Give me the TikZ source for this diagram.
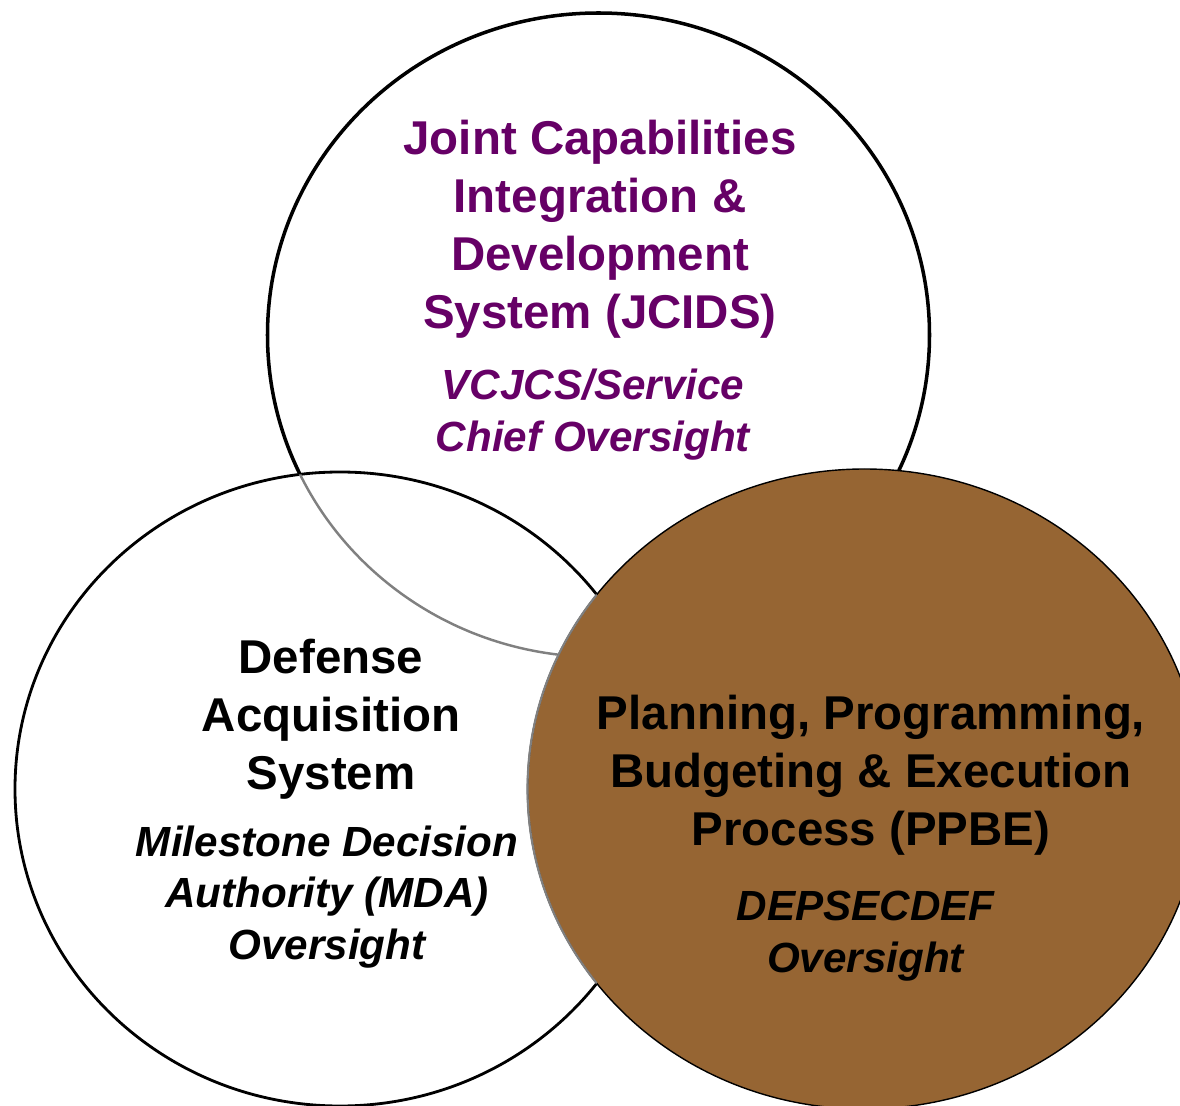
\documentclass[tikz,border=0pt]{standalone}
\usepackage{fontspec}
\setmainfont{Liberation Sans}
\definecolor{violet}{HTML}{660066}
\definecolor{brun}{HTML}{966533}
\tikzset{
  titre/.style={align=center, font=\fontsize{27}{33}\selectfont\bfseries},
  soustitre/.style={align=center, font=\fontsize{24}{29.5}\selectfont\bfseries\itshape}
}
\begin{document}
\begin{tikzpicture}

% Cadre
\useasboundingbox (0,0) rectangle (23.6,-22.12);
\clip (0,0) rectangle (23.6,-22.12);

% Cercle du haut
\draw[line width=2pt] (11.97,-6.70) ellipse [x radius=6.62cm, y radius=6.44cm];

% Cercle de gauche
\filldraw[fill=white, line width=1.6pt] (6.8,-15.78) ellipse [x radius=6.5cm, y radius=6.34cm];
\begin{scope}
  \clip (6.8,-15.78) ellipse [x radius=6.5cm, y radius=6.34cm];
  \draw[gray, line width=1.4pt] (11.97,-6.70) ellipse [x radius=6.62cm, y radius=6.44cm];
\end{scope}

% Cercle de droite
\filldraw[fill=brun, line width=0.8pt] (17.29,-15.78) ellipse [x radius=6.74cm, y radius=6.4cm];
\begin{scope}
  \clip (6.8,-15.78) ellipse [x radius=6.5cm, y radius=6.34cm];
  \draw[gray, line width=1.2pt] (17.29,-15.78) ellipse [x radius=6.74cm, y radius=6.4cm];
\end{scope}

% Textes
\node[titre, text=violet] (jcids) at (12.0,-4.58)
  {Joint Capabilities\\Integration \&\\Development\\System (JCIDS)};
\node[soustitre, text=violet] (vcjcs) at (11.86,-8.30)
  {VCJCS/Service\\Chief Oversight};
\node[titre] (das) at (6.62,-14.38)
  {Defense\\Acquisition\\System};
\node[soustitre] (mda) at (6.54,-17.94)
  {Milestone Decision\\Authority (MDA)\\Oversight};
\node[titre] (ppbe) at (17.42,-15.5)
  {Planning, Programming,\\Budgeting \& Execution\\Process (PPBE)};
\node[soustitre] (depsecdef) at (17.31,-18.72)
  {DEPSECDEF\\Oversight};

\end{tikzpicture}
\end{document}
